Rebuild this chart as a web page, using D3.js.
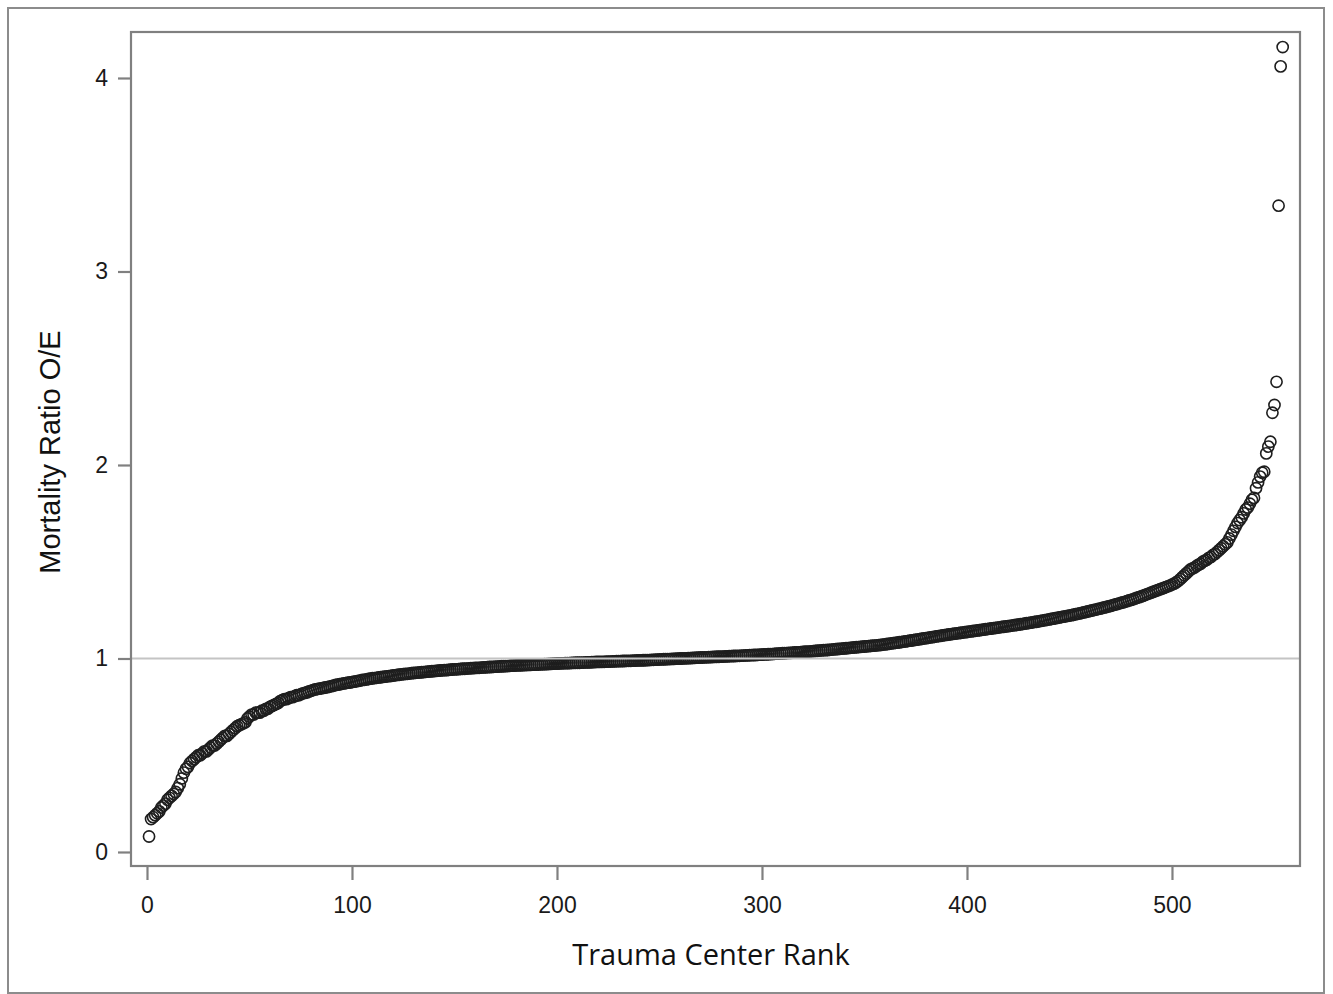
<!DOCTYPE html>
<html>
<head>
<meta charset="utf-8">
<script src="https://cdn.jsdelivr.net/npm/d3@7"></script>
<style>
  body { margin: 0; background: #fff; }
  .tick text { font-family: "Liberation Sans", Arial, sans-serif; fill: #1a1a1a; }
</style>
</head>
<body>
<div id="chart"></div>
<script>
// O/E mortality ratio for each trauma center, sorted ascending (rank 1..554)
const ratios = [
  0.08, 0.17, 0.18, 0.19, 0.20, 0.21, 0.23, 0.24, 0.25, 0.27,
  0.28, 0.29, 0.30, 0.31, 0.33, 0.35, 0.38, 0.41, 0.43, 0.44,
  0.46, 0.47, 0.48, 0.49, 0.50, 0.50, 0.51, 0.52, 0.52, 0.53,
  0.54, 0.55, 0.55, 0.56, 0.57, 0.58, 0.59, 0.60, 0.60, 0.61,
  0.62, 0.63, 0.64, 0.65, 0.655, 0.66, 0.665, 0.67, 0.69, 0.70,
  0.71, 0.71, 0.72, 0.72, 0.72, 0.73, 0.73, 0.74, 0.74, 0.75,
  0.755, 0.76, 0.765, 0.77, 0.78, 0.785, 0.79, 0.79, 0.795, 0.80,
  0.80, 0.805, 0.81, 0.81, 0.815, 0.82, 0.822, 0.825, 0.83, 0.833,
  0.837, 0.84, 0.842, 0.844, 0.846, 0.848, 0.85, 0.852, 0.855, 0.857,
  0.86, 0.863, 0.865, 0.867, 0.869, 0.871, 0.873, 0.875, 0.876, 0.878,
  0.88, 0.882, 0.884, 0.886, 0.889, 0.89, 0.892, 0.894, 0.896, 0.898,
  0.899, 0.90, 0.902, 0.903, 0.905, 0.906, 0.908, 0.909, 0.91, 0.912,
  0.913, 0.915, 0.916, 0.918, 0.919, 0.92, 0.921, 0.922, 0.924, 0.925,
  0.926, 0.927, 0.928, 0.929, 0.93, 0.931, 0.932, 0.933, 0.934, 0.935,
  0.936, 0.937, 0.938, 0.939, 0.94, 0.94, 0.941, 0.942, 0.943, 0.944,
  0.944, 0.945, 0.946, 0.947, 0.947, 0.948, 0.949, 0.95, 0.95, 0.951,
  0.952, 0.952, 0.953, 0.954, 0.954, 0.955, 0.956, 0.956, 0.957, 0.958,
  0.958, 0.959, 0.96, 0.96, 0.961, 0.961, 0.962, 0.963, 0.963, 0.964,
  0.964, 0.965, 0.965, 0.966, 0.966, 0.967, 0.967, 0.968, 0.968, 0.969,
  0.969, 0.97, 0.97, 0.971, 0.971, 0.972, 0.972, 0.973, 0.973, 0.974,
  0.974, 0.975, 0.975, 0.976, 0.976, 0.976, 0.977, 0.977, 0.978, 0.978,
  0.978, 0.979, 0.979, 0.98, 0.98, 0.98, 0.981, 0.981, 0.982, 0.982,
  0.982, 0.983, 0.983, 0.984, 0.984, 0.984, 0.985, 0.985, 0.986, 0.986,
  0.986, 0.987, 0.987, 0.988, 0.988, 0.988, 0.989, 0.989, 0.99, 0.99,
  0.99, 0.991, 0.991, 0.992, 0.992, 0.993, 0.993, 0.994, 0.994, 0.995,
  0.995, 0.996, 0.996, 0.997, 0.997, 0.998, 0.998, 0.999, 0.999, 1.0,
  1.0, 1.001, 1.001, 1.002, 1.002, 1.003, 1.003, 1.004, 1.004, 1.005,
  1.005, 1.006, 1.006, 1.007, 1.007, 1.008, 1.008, 1.009, 1.009, 1.01,
  1.01, 1.011, 1.011, 1.012, 1.012, 1.013, 1.013, 1.014, 1.014, 1.015,
  1.015, 1.016, 1.016, 1.017, 1.017, 1.018, 1.018, 1.019, 1.02, 1.02,
  1.021, 1.021, 1.022, 1.023, 1.023, 1.024, 1.025, 1.025, 1.026, 1.027,
  1.027, 1.028, 1.029, 1.029, 1.03, 1.031, 1.032, 1.032, 1.033, 1.034,
  1.035, 1.035, 1.036, 1.037, 1.038, 1.039, 1.04, 1.041, 1.042, 1.043,
  1.043, 1.044, 1.045, 1.046, 1.047, 1.048, 1.049, 1.05, 1.051, 1.052,
  1.053, 1.054, 1.055, 1.056, 1.057, 1.058, 1.059, 1.06, 1.061, 1.062,
  1.063, 1.064, 1.065, 1.066, 1.067, 1.068, 1.069, 1.07, 1.072, 1.073,
  1.075, 1.076, 1.078, 1.079, 1.081, 1.082, 1.084, 1.085, 1.087, 1.088,
  1.09, 1.092, 1.093, 1.095, 1.097, 1.098, 1.10, 1.102, 1.104, 1.105,
  1.107, 1.109, 1.11, 1.112, 1.114, 1.116, 1.117, 1.119, 1.121, 1.122,
  1.124, 1.125, 1.127, 1.128, 1.13, 1.131, 1.133, 1.134, 1.136, 1.137,
  1.139, 1.14, 1.142, 1.143, 1.145, 1.146, 1.148, 1.149, 1.151, 1.152,
  1.154, 1.155, 1.157, 1.158, 1.16, 1.161, 1.163, 1.164, 1.166, 1.167,
  1.169, 1.17, 1.172, 1.173, 1.175, 1.177, 1.178, 1.18, 1.182, 1.183,
  1.185, 1.187, 1.189, 1.19, 1.192, 1.194, 1.196, 1.198, 1.20, 1.202,
  1.204, 1.206, 1.208, 1.21, 1.212, 1.214, 1.216, 1.218, 1.22, 1.222,
  1.224, 1.226, 1.229, 1.231, 1.233, 1.236, 1.238, 1.241, 1.243, 1.246,
  1.248, 1.251, 1.253, 1.256, 1.258, 1.261, 1.264, 1.266, 1.269, 1.272,
  1.275, 1.278, 1.281, 1.284, 1.287, 1.29, 1.293, 1.296, 1.30, 1.303,
  1.306, 1.31, 1.314, 1.317, 1.321, 1.325, 1.329, 1.333, 1.337, 1.341,
  1.345, 1.349, 1.353, 1.357, 1.361, 1.365, 1.369, 1.373, 1.377, 1.382,
  1.387, 1.393, 1.40, 1.41, 1.42, 1.43, 1.44, 1.45, 1.46, 1.465,
  1.47, 1.478, 1.485, 1.49, 1.50, 1.505, 1.51, 1.52, 1.525, 1.535,
  1.54, 1.55, 1.56, 1.57, 1.58, 1.59, 1.60, 1.62, 1.64, 1.66,
  1.68, 1.70, 1.715, 1.73, 1.75, 1.77, 1.78, 1.80, 1.82, 1.83,
  1.88, 1.91, 1.94, 1.96, 1.965, 2.06, 2.095, 2.12, 2.27, 2.31,
  2.43, 3.34, 4.06, 4.16
];
const ranks = ratios.map((d, i) => i + 1);

const xTicks = [0, 100, 200, 300, 400, 500];
const yTicks = [0, 1, 2, 3, 4];
const refValue = 1;

const width = 1333;
const height = 994;
const margin = { top: 32, right: 33, bottom: 128, left: 131 };

const svg = d3.select('#chart')
  .append('svg')
  .attr('width', width)
  .attr('height', height);

// outer border
svg.append('rect')
  .attr('x', 8).attr('y', 8)
  .attr('width', 1316).attr('height', 985)
  .attr('fill', 'none')
  .attr('stroke', '#8c8c8c')
  .attr('stroke-width', 2);

const x = d3.scaleLinear()
  .domain([-7.8, 562.45])
  .range([margin.left, width - margin.right]);

const y = d3.scaleLinear()
  .domain([-0.0724, 4.2377])
  .range([height - margin.bottom, margin.top]);

// points
svg.append('g')
  .selectAll('circle')
  .data(ratios)
  .join('circle')
    .attr('cx', (d, i) => x(ranks[i]))
    .attr('cy', d => y(d))
    .attr('r', 5.6)
    .attr('fill', 'none')
    .attr('stroke', '#1e1e1e')
    .attr('stroke-width', 1.6);

// reference line at O/E = 1
svg.append('line')
  .attr('x1', margin.left).attr('x2', width - margin.right)
  .attr('y1', y(refValue)).attr('y2', y(refValue))
  .attr('stroke', '#c4c4c4')
  .attr('stroke-width', 2);

// plot frame
svg.append('rect')
  .attr('x', margin.left).attr('y', margin.top)
  .attr('width', width - margin.left - margin.right)
  .attr('height', height - margin.top - margin.bottom)
  .attr('fill', 'none')
  .attr('stroke', '#808080')
  .attr('stroke-width', 2.2);

function xAxis(g) {
  g.attr('transform', `translate(0,${height - margin.bottom})`)
    .call(d3.axisBottom(x).tickValues(xTicks).tickSize(14).tickPadding(17))
    .attr('font-size', '23px');
  g.select('.domain').remove();
  g.selectAll('.tick line').attr('stroke', '#808080').attr('stroke-width', 2.2);
}

function yAxis(g) {
  g.attr('transform', `translate(${margin.left},0)`)
    .call(d3.axisLeft(y).tickValues(yTicks).tickFormat(d3.format('d')).tickSize(13).tickPadding(10))
    .attr('font-size', '23px');
  g.select('.domain').remove();
  g.selectAll('.tick line').attr('stroke', '#808080').attr('stroke-width', 2.2);
}

svg.append('g').call(xAxis);
svg.append('g').call(yAxis);

svg.append('text')
  .attr('x', 711)
  .attr('y', 965)
  .attr('text-anchor', 'middle')
  .attr('font-family', '"Open Sans", "Liberation Sans", sans-serif')
  .attr('font-size', '29px')
  .attr('fill', '#111')
  .text('Trauma Center Rank');

svg.append('text')
  .attr('transform', 'translate(60,452) rotate(-90)')
  .attr('text-anchor', 'middle')
  .attr('font-family', '"Liberation Sans", Arial, sans-serif')
  .attr('font-size', '29px')
  .attr('fill', '#111')
  .text('Mortality Ratio O/E');
</script>
</body>
</html>
